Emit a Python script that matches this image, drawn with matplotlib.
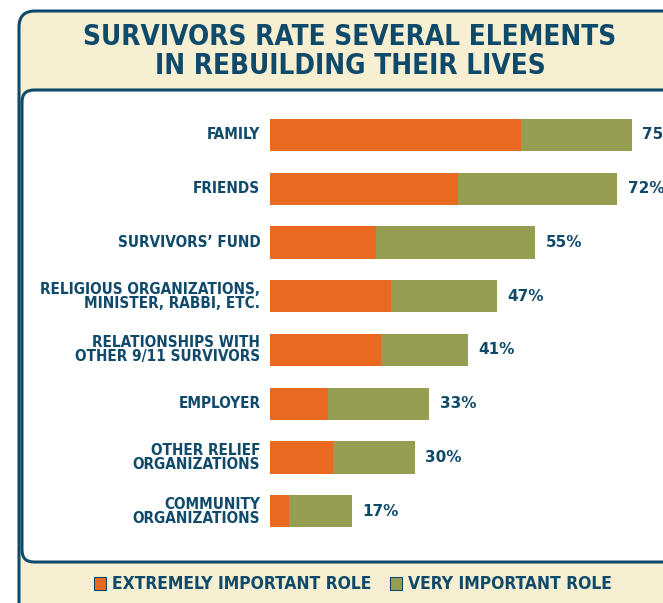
import matplotlib.pyplot as plt
from matplotlib.patches import FancyBboxPatch, Rectangle

categories = ["FAMILY", "FRIENDS", "SURVIVORS\u2019 FUND",
              "RELIGIOUS ORGANIZATIONS,\nMINISTER, RABBI, ETC.",
              "RELATIONSHIPS WITH\nOTHER 9/11 SURVIVORS", "EMPLOYER",
              "OTHER RELIEF\nORGANIZATIONS", "COMMUNITY\nORGANIZATIONS"]
extremely = [52, 39, 22, 25, 23, 12, 13, 4]
very = [23, 33, 33, 22, 18, 21, 17, 13]
totals = [75, 72, 55, 47, 41, 33, 30, 17]

NAVY = "#0f4a6b"
ORANGE = "#e8691f"
OLIVE = "#969c50"
CREAM = "#f6efd1"
FONT = ["DejaVu Sans"]

W, H = 663, 603
fig = plt.figure(figsize=(W / 100, H / 100), dpi=100)
fig.patch.set_facecolor("white")

# background decoration in pixel coords
bg = fig.add_axes([0, 0, 1, 1])
bg.set_xlim(0, W)
bg.set_ylim(H, 0)
bg.axis("off")
bg.add_patch(FancyBboxPatch((19, 11), 720, 640, boxstyle="round,pad=0,rounding_size=16",
                            fc=CREAM, ec=NAVY, lw=2.2))
bg.add_patch(FancyBboxPatch((22, 90), 720, 472, boxstyle="round,pad=0,rounding_size=12",
                            fc="white", ec=NAVY, lw=2.2))
bg.text(350, 37, "SURVIVORS RATE SEVERAL ELEMENTS", ha="center", va="center",
        fontsize=20, fontweight="bold", fontstretch="condensed", color=NAVY, family=FONT)
bg.text(350, 66, "IN REBUILDING THEIR LIVES", ha="center", va="center",
        fontsize=20, fontweight="bold", fontstretch="condensed", color=NAVY, family=FONT)

# legend
bg.add_patch(Rectangle((94, 577), 12, 13, fc=ORANGE, ec=NAVY, lw=0.8))
bg.text(112, 584, "EXTREMELY IMPORTANT ROLE", ha="left", va="center",
        fontsize=12.5, fontweight="bold", fontstretch="condensed", color=NAVY, family=FONT)
bg.add_patch(Rectangle((390, 577), 12, 13, fc=OLIVE, ec=NAVY, lw=0.8))
bg.text(408, 584, "VERY IMPORTANT ROLE", ha="left", va="center",
        fontsize=12.5, fontweight="bold", fontstretch="condensed", color=NAVY, family=FONT)

# bar chart
px_per = 4.82
left, right = 270, W
top, bottom = 108, 538
ax = fig.add_axes([left / W, 1 - bottom / H, (right - left) / W, (bottom - top) / H])
ax.set_xlim(0, (right - left) / px_per)
ax.set_ylim(len(categories) - 0.5, -0.5)
ax.axis("off")

ypos = list(range(len(categories)))
ax.barh(ypos, extremely, height=0.6, color=ORANGE)
ax.barh(ypos, very, left=extremely, height=0.6, color=OLIVE)

for i, (cat, tot) in enumerate(zip(categories, totals)):
    ax.text(tot + 2.2, i, f"{tot}%", ha="left", va="center", fontsize=11,
            fontweight="bold", color=NAVY, family=["DejaVu Sans"], clip_on=False)
    ax.text(-2.0, i, cat, ha="right", va="center", fontsize=11,
            fontweight="bold", fontstretch="condensed", color=NAVY, family=FONT,
            linespacing=0.9, clip_on=False)

fig.savefig("out.png", dpi=100)
